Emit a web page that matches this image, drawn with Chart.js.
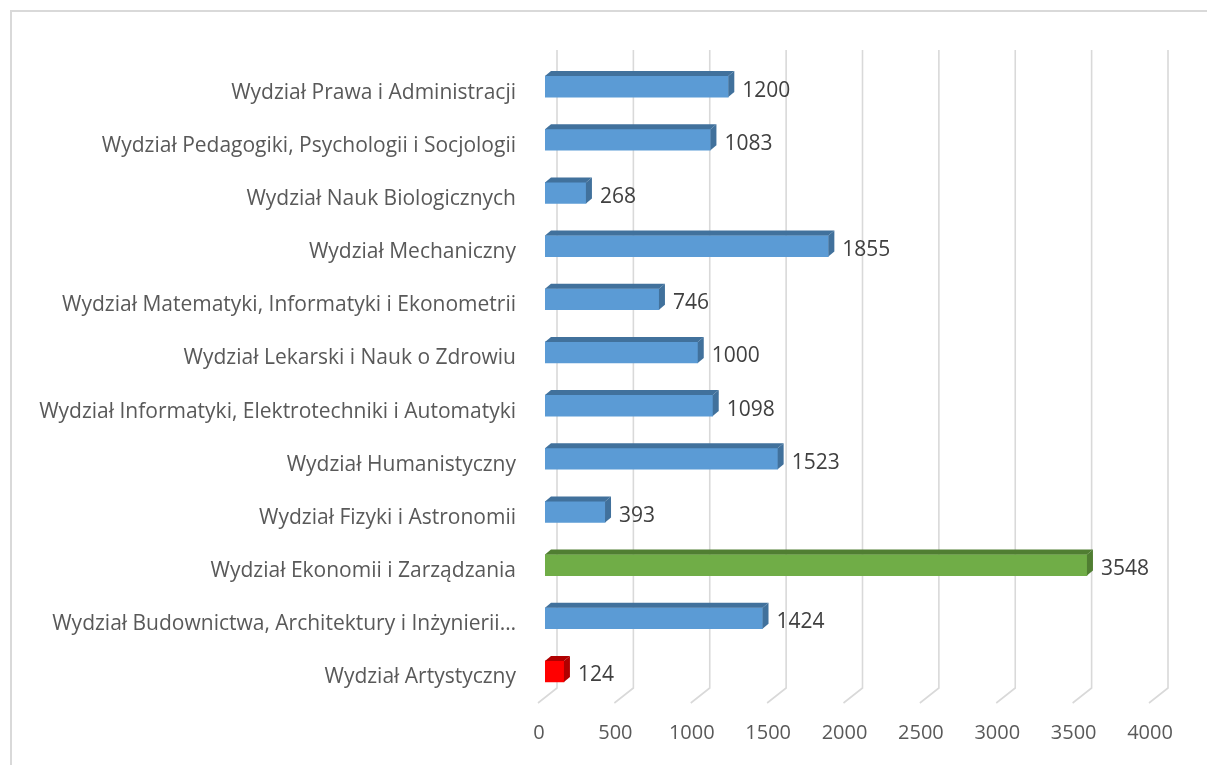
<!DOCTYPE html>
<html>
<head>
<meta charset="utf-8">
<script src="https://cdn.jsdelivr.net/npm/chart.js@4"></script>
<style>
  html, body { margin: 0; padding: 0; background: #fff; overflow: hidden; }
  #wrap { position: relative; width: 1207px; height: 765px; }
  #frame { position: absolute; left: 10px; top: 10px; width: 1200px; height: 770px; border: 2px solid #d9d9d9; box-sizing: border-box; }
  canvas { position: absolute; left: 0; top: 0; }
</style>
</head>
<body>
<div id="wrap">
  <div id="frame"></div>
  <canvas id="chart" width="1207" height="765"></canvas>
</div>
<script>
// wydziały i liczby
var wydzialy = [
    "Wydział Prawa i Administracji",
    "Wydział Pedagogiki, Psychologii i Socjologii",
    "Wydział Nauk Biologicznych",
    "Wydział Mechaniczny",
    "Wydział Matematyki, Informatyki i Ekonometrii",
    "Wydział Lekarski i Nauk o Zdrowiu",
    "Wydział Informatyki, Elektrotechniki i Automatyki",
    "Wydział Humanistyczny",
    "Wydział Fizyki i Astronomii",
    "Wydział Ekonomii i Zarządzania",
    "Wydział Budownictwa, Architektury i Inżynierii…",
    "Wydział Artystyczny"
];
var liczby = [1200, 1083, 268, 1855, 746, 1000, 1098, 1523, 393, 3548, 1424, 124];
var osX = [0, 500, 1000, 1500, 2000, 2500, 3000, 3500, 4000];

var koloryPrzod = [], koloryBok = [];
for (var i = 0; i < liczby.length; i++) {
    if (i == 9) { koloryPrzod.push("#70ad47"); koloryBok.push("#507e32"); }
    else if (i == 11) { koloryPrzod.push("#ff0000"); koloryBok.push("#b00000"); }
    else { koloryPrzod.push("#5b9bd5"); koloryBok.push("#41719c"); }
}

var DX = 6, DY = 5;

// siatka z "podłogą" 3D
var siatka3d = {
    id: 'siatka3d',
    beforeDatasetsDraw: function (chart) {
        var ctx = chart.ctx, x = chart.scales.x;
        ctx.save();
        ctx.strokeStyle = "#d9d9d9";
        ctx.lineWidth = 1.6;
        osX.forEach(function (v) {
            var px = x.getPixelForValue(v);
            ctx.beginPath();
            ctx.moveTo(px + 12, 50);
            ctx.lineTo(px + 12, 688);
            ctx.lineTo(px - 7, 703);
            ctx.stroke();
        });
        ctx.restore();
    }
};

// boki słupków + etykiety
var slupki3d = {
    id: 'slupki3d',
    afterDatasetsDraw: function (chart) {
        var ctx = chart.ctx;
        var meta = chart.getDatasetMeta(0);
        ctx.save();
        meta.data.forEach(function (bar, i) {
            var p = bar.getProps(['x', 'y', 'base', 'height'], true);
            var top = p.y - p.height / 2, bottom = p.y + p.height / 2;
            ctx.fillStyle = koloryBok[i];
            // góra
            ctx.beginPath();
            ctx.moveTo(p.base, top);
            ctx.lineTo(p.base + DX, top - DY);
            ctx.lineTo(p.x + DX, top - DY);
            ctx.lineTo(p.x, top);
            ctx.closePath();
            ctx.fill();
            // bok
            ctx.beginPath();
            ctx.moveTo(p.x, top);
            ctx.lineTo(p.x + DX, top - DY);
            ctx.lineTo(p.x + DX, bottom - DY);
            ctx.lineTo(p.x, bottom);
            ctx.closePath();
            ctx.fill();
            // etykieta
            ctx.fillStyle = "#404040";
            ctx.font = "21px 'Open Sans'";
            ctx.textBaseline = "middle";
            ctx.fillText(liczby[i], p.x + 14, p.y + 4);
        });
        ctx.restore();
    }
};

new Chart(document.getElementById("chart"), {
    type: 'bar',
    data: {
        labels: wydzialy,
        datasets: [{
            data: liczby,
            backgroundColor: koloryPrzod,
            borderWidth: 0,
            barThickness: 21
        }]
    },
    options: {
        indexAxis: 'y',
        responsive: false,
        animation: false,
        layout: { padding: { top: 60, right: 51, left: 0, bottom: 0 } },
        plugins: { legend: { display: false }, tooltip: { enabled: false } },
        scales: {
            x: {
                min: 0, max: 4000,
                afterFit: function (s) { s.height = 67; },
                grid: { display: false, drawTicks: false },
                border: { display: false },
                ticks: {
                    stepSize: 500, padding: 23, labelOffset: -6,
                    callback: function (v) { return String(v); },
                    color: "#595959", font: { family: "Open Sans", size: 20 }
                }
            },
            y: {
                afterFit: function (s) { s.width = 545; },
                grid: { display: false, drawTicks: false },
                border: { display: false },
                ticks: {
                    padding: 29, labelOffset: 6, autoSkip: false,
                    color: "#595959", font: { family: "Open Sans", size: 21 }
                }
            }
        }
    },
    plugins: [siatka3d, slupki3d]
});
</script>
</body>
</html>
